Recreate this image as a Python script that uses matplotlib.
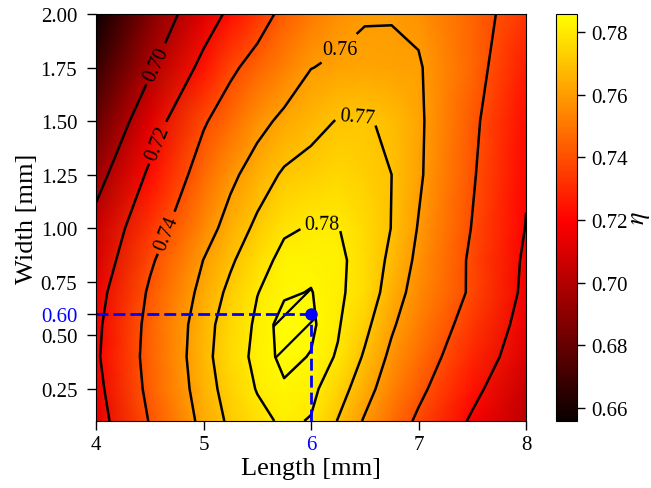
import numpy as np
import matplotlib
matplotlib.use("Agg")
import matplotlib.pyplot as plt
from matplotlib.colors import ListedColormap

plt.rcParams["font.family"] = ["Liberation Serif", "DejaVu Serif"]
plt.rcParams["mathtext.fontset"] = "stix"
plt.rcParams["hatch.linewidth"] = 1.6

# grid
lengths = [4.0, 4.5, 5.0, 5.25, 5.5, 5.75, 6.0, 6.25, 6.5, 6.75, 7.0, 7.5, 8.0]
widths = [0.10, 0.25, 0.40, 0.55, 0.70, 0.85, 1.00, 1.25, 1.50, 1.75, 2.00]
eta = [
    [0.7130, 0.7408, 0.7635, 0.7719, 0.7774, 0.7815, 0.7795, 0.7696, 0.7589, 0.7482, 0.7376, 0.7180, 0.7020],
    [0.7157, 0.7437, 0.7657, 0.7740, 0.7805, 0.7835, 0.7822, 0.7744, 0.7643, 0.7536, 0.7433, 0.7241, 0.7053],
    [0.7179, 0.7450, 0.7669, 0.7759, 0.7820, 0.7850, 0.7838, 0.7793, 0.7688, 0.7576, 0.7480, 0.7294, 0.7110],
    [0.7168, 0.7442, 0.7663, 0.7748, 0.7813, 0.7858, 0.7848, 0.7808, 0.7726, 0.7615, 0.7522, 0.7337, 0.7142],
    [0.7142, 0.7420, 0.7636, 0.7723, 0.7798, 0.7834, 0.7842, 0.7814, 0.7764, 0.7652, 0.7554, 0.7379, 0.7168],
    [0.7094, 0.7378, 0.7602, 0.7686, 0.7764, 0.7825, 0.7828, 0.7818, 0.7765, 0.7678, 0.7576, 0.7377, 0.7178],
    [0.7058, 0.7321, 0.7547, 0.7645, 0.7720, 0.7788, 0.7806, 0.7803, 0.7758, 0.7698, 0.7594, 0.7395, 0.7196],
    [0.6936, 0.7227, 0.7469, 0.7574, 0.7653, 0.7713, 0.7735, 0.7750, 0.7735, 0.7700, 0.7618, 0.7414, 0.7210],
    [0.6806, 0.7116, 0.7385, 0.7475, 0.7564, 0.7626, 0.7670, 0.7705, 0.7708, 0.7685, 0.7621, 0.7430, 0.7225],
    [0.6680, 0.6976, 0.7245, 0.7373, 0.7454, 0.7523, 0.7598, 0.7615, 0.7620, 0.7615, 0.7612, 0.7457, 0.7263],
    [0.6558, 0.6872, 0.7116, 0.7232, 0.7333, 0.7438, 0.7508, 0.7565, 0.7594, 0.7596, 0.7575, 0.7455, 0.7330],
]
line_levels = [0.70, 0.72, 0.74, 0.76, 0.77, 0.78]
best_level = 0.784
opt_length = 6.0
opt_width = 0.6

L = np.array(lengths)
W = np.array(widths)
Z = np.array(eta)

cmap = ListedColormap(plt.cm.hot(np.linspace(0, 0.745, 256)))

fig = plt.figure(figsize=(6.51, 4.89), dpi=100)
ax = fig.add_axes([96 / 651, 67 / 489, 430 / 651, 407 / 489])
cax = fig.add_axes([556 / 651, 67 / 489, 21 / 651, 407 / 489])

mesh = ax.pcolormesh(L, W, Z, cmap=cmap, shading="gouraud")

cs = ax.contour(L, W, Z, levels=line_levels, colors="k", linewidths=1.8)
ax.contour(L, W, Z, levels=[best_level], colors="k", linewidths=1.8)
ax.contourf(L, W, Z, levels=[best_level, 1.0], colors="none", hatches=["/"])

label_pos = [(4.5, 1.78), (4.57, 1.40), (4.6, 0.99), (6.26, 1.84), (6.43, 1.52), (6.1, 1.02)]
texts = ax.clabel(cs, fmt="%.2f", fontsize=14.5, inline=True, manual=label_pos)
for t in texts:
    if t.get_text() == "0.76":
        t.set_rotation(0)

# optimum marker
ax.plot([L[0], opt_length], [opt_width, opt_width], color="blue", ls=(0, (4.3, 1.8)), lw=2)
ax.plot([opt_length, opt_length], [W[0], opt_width], color="blue", ls=(0, (4.3, 1.8)), lw=2)
ax.plot(opt_length, opt_width, "o", color="blue", ms=8)

ax.set_xlim(4, 8)
ax.set_ylim(0.1, 2.0)
xt = [4, 5, 6, 7, 8]
yt = [0.25, 0.5, 0.6, 0.75, 1.0, 1.25, 1.5, 1.75, 2.0]
ax.set_xticks(xt)
ax.set_xticklabels([str(v) for v in xt])
ax.set_yticks(yt)
ax.set_yticklabels([f"{v:.2f}" for v in yt])
for lab in ax.get_xticklabels():
    if lab.get_text() == "6":
        lab.set_color("blue")
for lab in ax.get_yticklabels():
    if lab.get_text() == "0.60":
        lab.set_color("blue")
ax.tick_params(labelsize=15, length=6.5, width=1)
ax.tick_params(axis="y", pad=7)
ax.set_xlabel("Length [mm]", fontsize=19, labelpad=2)
ax.set_ylabel("Width [mm]", fontsize=19, labelpad=2)

cb = fig.colorbar(mesh, cax=cax)
cb.set_ticks([0.66, 0.68, 0.70, 0.72, 0.74, 0.76, 0.78])
cb.ax.tick_params(labelsize=15, length=6, width=1, pad=4)
cb.set_label(r"$\eta$", fontsize=19, labelpad=2)

fig.savefig("out.png", dpi=100)
